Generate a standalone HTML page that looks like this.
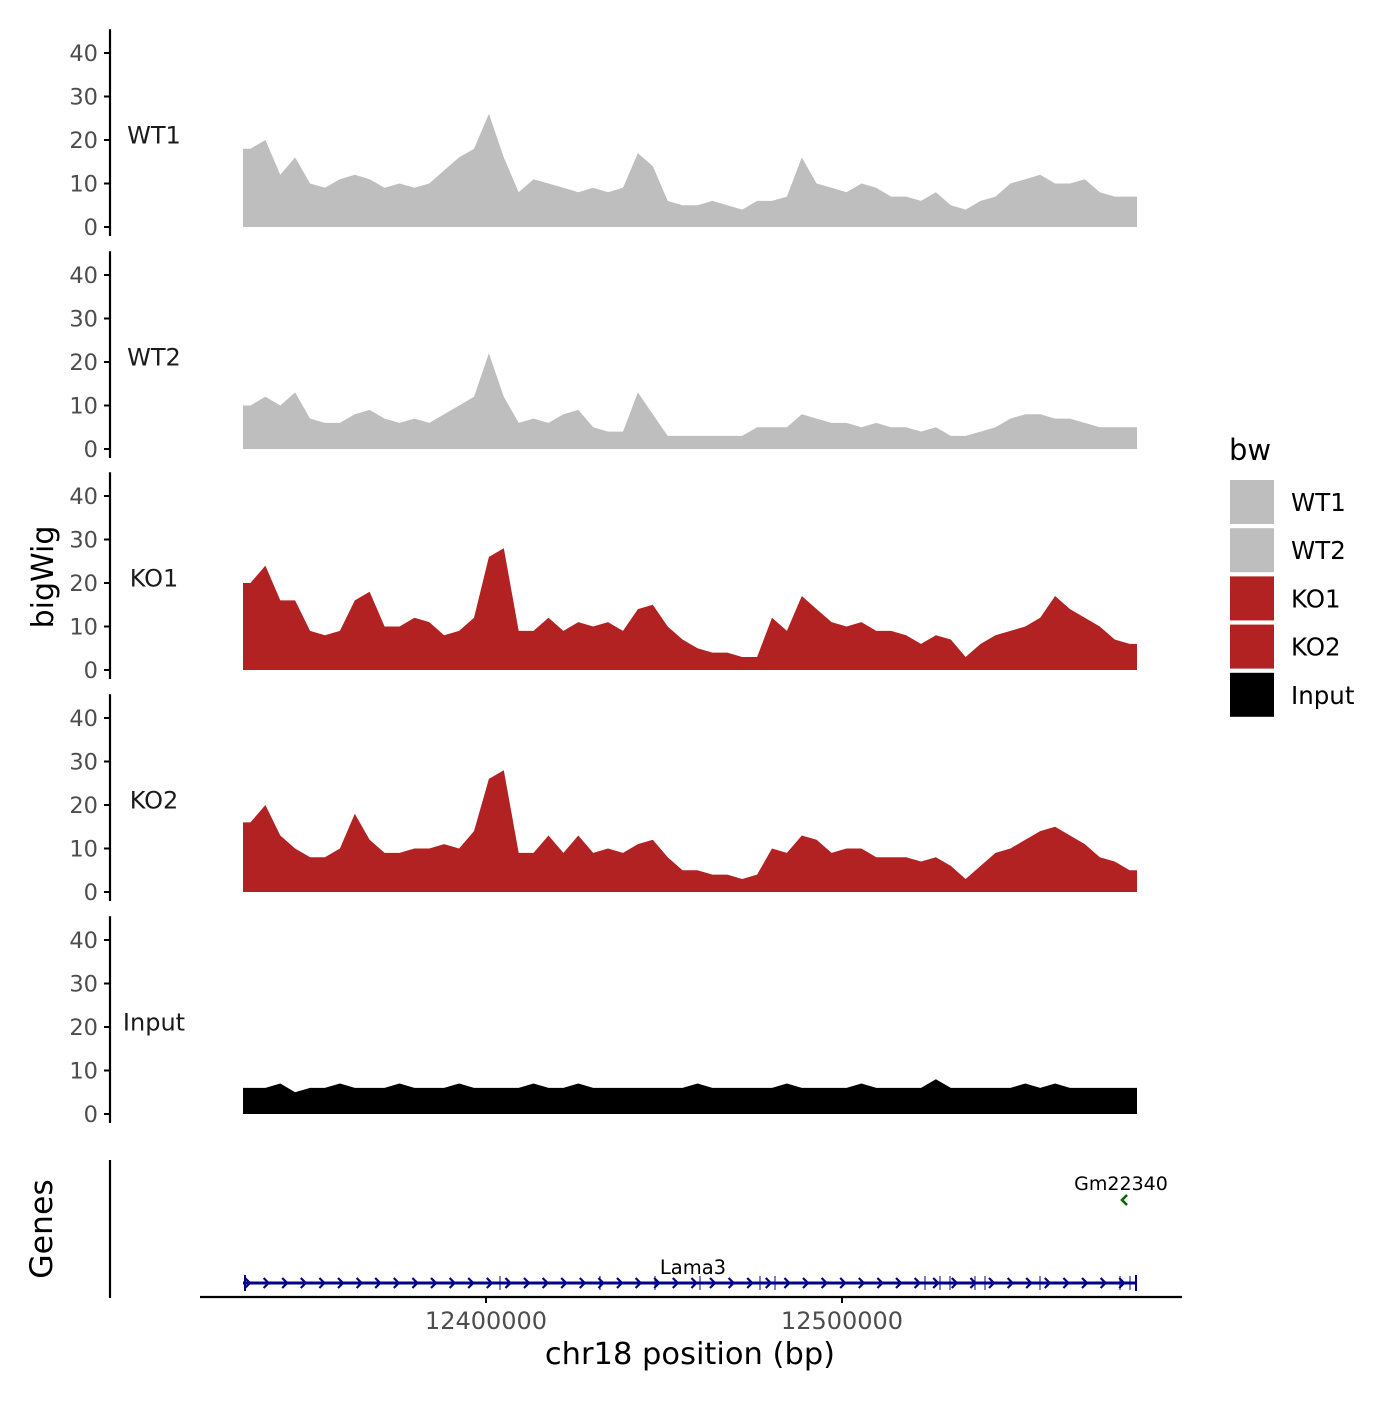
<!DOCTYPE html>
<html><head><meta charset="utf-8"><style>
html,body{margin:0;padding:0;background:#fff;}
svg text{font-family:"DejaVu Sans","Liberation Sans",sans-serif;}
</style></head><body>
<svg id="chart" width="1400" height="1400" viewBox="0 0 1400 1400" xmlns="http://www.w3.org/2000/svg">
<rect width="1400" height="1400" fill="#fff"/>
<g id="tracks"></g>
<g id="genes"></g>
<g id="legend"></g>
</svg>
<script>
const trackNames = ["WT1","WT2","KO1","KO2","Input"];
const trackColors = ["#bebebe","#bebebe","#b22222","#b22222","#000000"];
const yTicks = [0,10,20,30,40];
const xTickValues = [12400000,12500000];
const xTickLabels = ["12400000","12500000"];
const regionStart = 12331742;
const regionEnd = 12582865;
const wt1 = [18,20,12,16,10,9,11,12,11,9,10,9,10,13,16,18,26,16,8,11,10,9,8,9,8,9,17,14,6,5,5,6,5,4,6,6,7,16,10,9,8,10,9,7,7,6,8,5,4,6,7,10,11,12,10,10,11,8,7,7];
const wt2 = [10,12,10,13,7,6,6,8,9,7,6,7,6,8,10,12,22,12,6,7,6,8,9,5,4,4,13,8,3,3,3,3,3,3,5,5,5,8,7,6,6,5,6,5,5,4,5,3,3,4,5,7,8,8,7,7,6,5,5,5];
const ko1 = [20,24,16,16,9,8,9,16,18,10,10,12,11,8,9,12,26,28,9,9,12,9,11,10,11,9,14,15,10,7,5,4,4,3,3,12,9,17,14,11,10,11,9,9,8,6,8,7,3,6,8,9,10,12,17,14,12,10,7,6];
const ko2 = [16,20,13,10,8,8,10,18,12,9,9,10,10,11,10,14,26,28,9,9,13,9,13,9,10,9,11,12,8,5,5,4,4,3,4,10,9,13,12,9,10,10,8,8,8,7,8,6,3,6,9,10,12,14,15,13,11,8,7,5];
const input = [6,6,7,5,6,6,7,6,6,6,7,6,6,6,7,6,6,6,6,7,6,6,7,6,6,6,6,6,6,6,7,6,6,6,6,6,7,6,6,6,6,7,6,6,6,6,8,6,6,6,6,6,7,6,7,6,6,6,6,6];
const trackData = [wt1,wt2,ko1,ko2,input];
const legendLabels = ["WT1","WT2","KO1","KO2","Input"];

const NS="http://www.w3.org/2000/svg";
function mk(tag,attrs,parent,txt){const e=document.createElementNS(NS,tag);for(const k in attrs)e.setAttribute(k,attrs[k]);if(txt!==undefined)e.textContent=txt;parent.appendChild(e);return e;}
const X0=243,X1=1137;
function xScale(bp){return 486+(bp-12400000)/100000*356;}
const panelZero=[227,449,670,892,1114];
function yScale(p,v){return panelZero[p]-v*4.35;}

const tg=document.getElementById('tracks');
trackNames.forEach((name,p)=>{
  const g=mk('g',{},tg);
  
  
  const d=trackData[p];const n=d.length;const bw=(X1-X0)/n;
  let pts=[[X0,yScale(p,0)],[X0,yScale(p,d[0])]];
  for(let i=0;i<n;i++){pts.push([X0+bw*(i+0.5),yScale(p,d[i])]);}
  pts.push([X1,yScale(p,d[n-1])]);pts.push([X1,yScale(p,0)]);
  const a=mk('polygon',{points:pts.map(q=>q[0].toFixed(1)+','+q[1].toFixed(1)).join(' '),fill:trackColors[p]},g);
  
  
  const ax=mk('line',{x1:110,x2:110,y1:yScale(p,0)+9,y2:yScale(p,45)-2,stroke:'#000','stroke-width':2.2},g);
  
  
  yTicks.forEach(t=>{
    const y=yScale(p,t);
    mk('line',{x1:104,x2:110,y1:y,y2:y,stroke:'#000','stroke-width':2},g);
    const tl=mk('text',{x:98,y:y+8,'text-anchor':'end','font-size':22.5,fill:'#4d4d4d'},g,String(t));
    
    
  });
  const lb=mk('text',{x:154,y:yScale(p,21)+8,'text-anchor':'middle','font-size':24,fill:'#1a1a1a'},g,name);
  
  
});
const yt=mk('text',{x:53,y:577,'text-anchor':'middle','font-size':30,transform:'rotate(-90 53 577)'},tg,'bigWig');



const gg=document.getElementById('genes');
mk('line',{x1:110,x2:110,y1:1160,y2:1298,stroke:'#000','stroke-width':2.2},gg);
const gt=mk('text',{x:52,y:1229,'text-anchor':'middle','font-size':31.5,transform:'rotate(-90 52 1229)'},gg,'Genes');


const gl=mk('line',{x1:X0,x2:X1,y1:1283,y2:1283,stroke:'#00008b','stroke-width':3},gg);


for(let x=X0+5;x<X1;x+=18.6){mk('path',{d:`M${x-3},${1278} L${x+2},${1283} L${x-3},${1288}`,stroke:'#00008b','stroke-width':2.2,fill:'none'},gg);}
[500,600,655,700,760,775,925,940,950,975,985,1040,1120,1130].forEach(x=>mk('line',{x1:x,x2:x,y1:1276,y2:1290,stroke:'#00008b','stroke-width':1},gg));
mk('line',{x1:X0+2,x2:X0+2,y1:1275,y2:1291,stroke:'#00008b','stroke-width':2},gg);
mk('line',{x1:X1-1,x2:X1-1,y1:1275,y2:1291,stroke:'#00008b','stroke-width':2},gg);
const l3=mk('text',{x:693,y:1274,'text-anchor':'middle','font-size':19.5},gg,'Lama3');


const gm=mk('path',{d:'M1127,1195 L1122,1200 L1127,1205',stroke:'#006400','stroke-width':2.5,fill:'none'},gg);


const gml=mk('text',{x:1121,y:1190,'text-anchor':'middle','font-size':19},gg,'Gm22340');


const xa=mk('line',{x1:200,x2:1182,y1:1297,y2:1297,stroke:'#000','stroke-width':2.2},gg);


xTickValues.forEach((v,i)=>{
  const x=xScale(v);
  mk('line',{x1:x,x2:x,y1:1297,y2:1303,stroke:'#000','stroke-width':2},gg);
  const t=mk('text',{x:x,y:1329,'text-anchor':'middle','font-size':24,fill:'#4d4d4d'},gg,xTickLabels[i]);
  
  
});
const xt=mk('text',{x:690,y:1364,'text-anchor':'middle','font-size':30.5},gg,'chr18 position (bp)');



const lg=document.getElementById('legend');


mk('text',{x:1229,y:460,'font-size':29},lg,'bw');
legendLabels.forEach((l,i)=>{
  const y=480+i*48.2;
  const r=mk('rect',{x:1230,y:y,width:44,height:44,fill:trackColors[i]},lg);
  
  
  const t=mk('text',{x:1291,y:y+31,'font-size':24.5},lg,l);
  
  
});
</script>
</body></html>
